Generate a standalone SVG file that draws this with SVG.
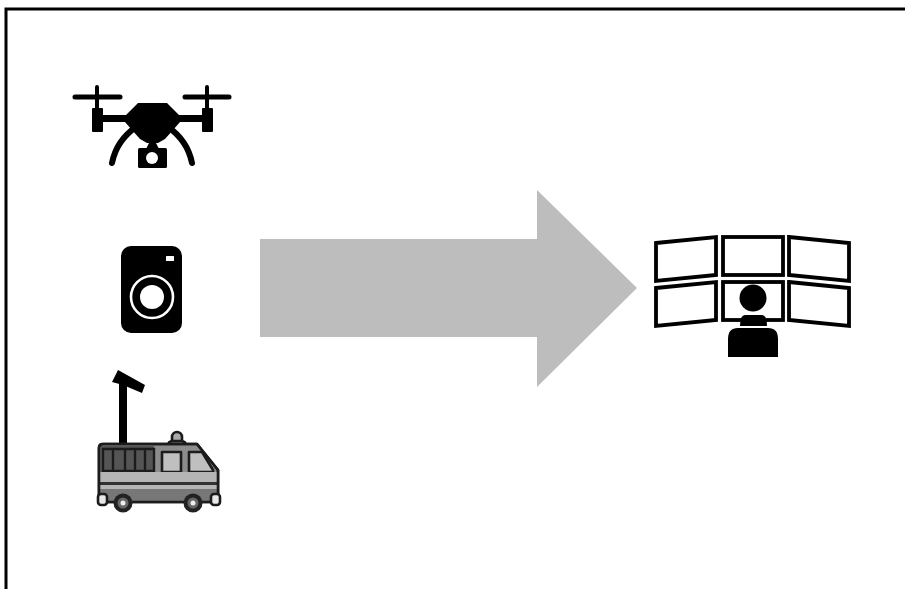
<svg xmlns="http://www.w3.org/2000/svg" width="905" height="589" viewBox="0 0 905 589">
<defs>
<style>
.k{fill:#000}
.w{fill:#fff}
.arm{stroke:#000;fill:none;stroke-linecap:round}
.mon{fill:#fff;stroke:#000;stroke-width:3.8;stroke-linejoin:miter}
.v{stroke:#1a1a1a;stroke-width:2.6;stroke-linejoin:round}
</style>
<filter id="soft" x="-5%" y="-5%" width="110%" height="110%"><feGaussianBlur stdDeviation="0.7"/></filter>
</defs>
<rect width="905" height="589" fill="#fff"/>
<path id="frame" d="M6 589V9H905" fill="none" stroke="#000" stroke-width="3"/>
<g id="drone" filter="url(#soft)">
<path class="arm" stroke-width="5" d="M75 97H120M185 97H229"/>
<path class="arm" stroke-width="4" d="M97 87V108M207 87V108"/>
<rect class="k" x="92" y="108" width="11" height="24" rx="1"/>
<rect class="k" x="202" y="108" width="11" height="24" rx="1"/>
<path class="k" d="M103 115H126L138 103H167L179 115H202V122H180L173 130L165 139L158 143H147L140 139L132 130L125 122H103Z"/>
<path class="arm" stroke-width="6" d="M112 163C115 148 123 136 136 127M192 163C189 148 181 136 168 127"/>
<rect class="k" x="138" y="148" width="29" height="20" rx="1.5"/>
<path class="k" d="M146 149L150 141H155L159 149Z"/>
<circle class="w" cx="152" cy="158" r="6"/>
</g>
<g id="camera" filter="url(#soft)">
<rect class="k" x="121" y="246" width="61" height="87" rx="10"/>
<rect class="w" x="166" y="256" width="8" height="5" rx="0.5"/>
<circle cx="152" cy="297" r="21" fill="none" stroke="#fff" stroke-width="2.6"/>
<circle class="w" cx="152" cy="297" r="12"/>
</g>
<g id="van" filter="url(#soft)">
<rect class="k" x="119" y="378" width="8" height="67"/>
<path class="k" d="M118 370L145 385L142 393L123 385L112 382Z"/>
<path class="v" fill="#aaa" d="M172 442V437A5 5 0 0 1 182 437V442Z"/>
<path class="v" fill="#888" d="M168 446Q168 441 173 441H181Q186 441 186 446Z"/>
<path class="v" fill="#8c8c8c" d="M99 448Q99 444 103 444H197L218 470V502H99Z"/>
<path fill="#555" d="M101 446H154V472H101Z"/>
<path fill="none" stroke="#1a1a1a" stroke-width="2.4" d="M103 449H154V471H103ZM113 449V471M125 449V471M135 449V471M145 449V471"/>
<path fill="#bfbfbf" stroke="#1a1a1a" stroke-width="2.6" stroke-linejoin="round" d="M162 452H181V472H162Z"/>
<path fill="#bfbfbf" stroke="#1a1a1a" stroke-width="2.6" stroke-linejoin="round" d="M189 452H202L213 470V472H189Z"/>
<rect x="100" y="472" width="117" height="10" fill="#b5b5b5"/>
<rect x="100" y="482" width="117" height="3" fill="#333"/>
<rect x="100" y="485" width="117" height="4" fill="#b5b5b5"/>
<rect x="100" y="489" width="117" height="13" fill="#777"/>
<path d="M99 448Q99 444 103 444H197L218 470V502H99Z" fill="none" stroke="#1a1a1a" stroke-width="2.6" stroke-linejoin="round"/>
<rect class="v" fill="#e8e8e8" x="98" y="494" width="9" height="11" rx="3"/>
<rect class="v" fill="#e8e8e8" x="211" y="494" width="9" height="11" rx="3"/>
<circle cx="123" cy="503" r="9.5" fill="#222"/><circle cx="123" cy="503" r="5.5" fill="#666"/><circle cx="123" cy="503" r="2.5" fill="#eee"/>
<circle cx="193" cy="503" r="9.5" fill="#222"/><circle cx="193" cy="503" r="5.5" fill="#666"/><circle cx="193" cy="503" r="2.5" fill="#eee"/>
</g>
<g id="connectors">
<path id="arrow" fill="#bdbdbd" d="M260 239H537V190L637 288L537 387V337H260Z"/>
</g>
<g id="operator" filter="url(#soft)">
<rect class="mon" x="723" y="237" width="60" height="38"/>
<path class="mon" d="M656 243L716 237V275L656 281Z"/>
<path class="mon" d="M789 237L849 243V281L789 275Z"/>
<rect class="mon" x="723" y="282" width="60" height="38"/>
<path class="mon" d="M656 288L716 282V320L656 326Z"/>
<path class="mon" d="M789 282L849 288V326L789 320Z"/>
<circle class="k" cx="753" cy="298" r="13.5"/>
<path class="k" d="M740 326Q740 315 745 315H762Q767 315 767 326Z"/>
<path class="k" d="M728 339Q728 328 738 328H768Q778 328 778 339V357H728Z"/>
</g>
</svg>
